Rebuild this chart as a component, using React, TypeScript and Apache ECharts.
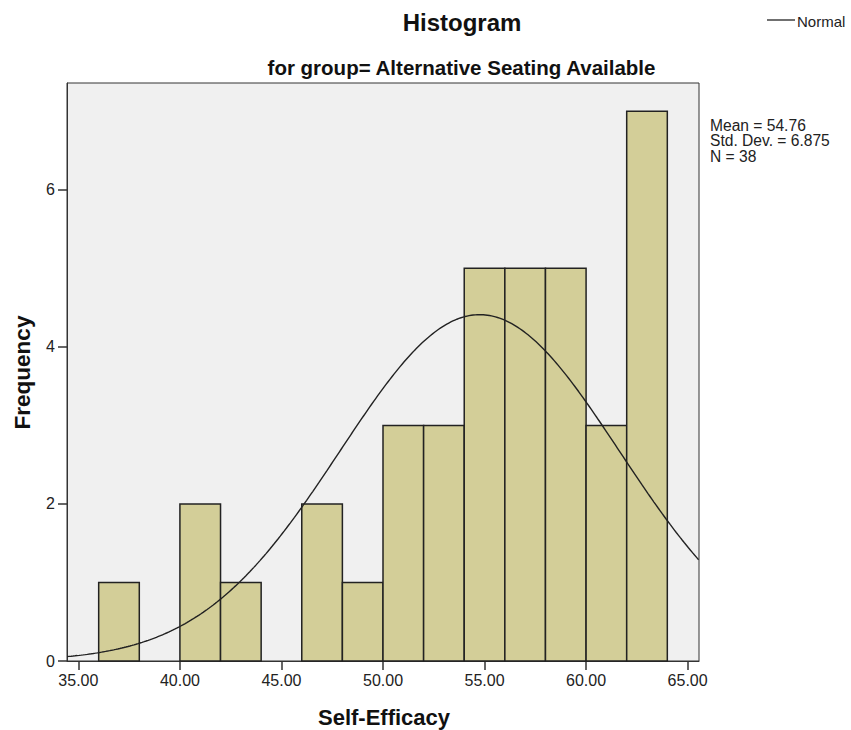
import React, { useEffect, useRef } from "react";
import * as echarts from "echarts";

// Histogram bins (lower bound of each bin) and frequencies
const binStarts = [36, 38, 40, 42, 44, 46, 48, 50, 52, 54, 56, 58, 60, 62];
const counts = [1, 0, 2, 1, 0, 2, 1, 3, 3, 5, 5, 5, 3, 7];
const BIN_WIDTH = 2;

// Axis ticks
const xTicks = [35, 40, 45, 50, 55, 60, 65];
const yTicks = [0, 2, 4, 6];
const X_MIN = 34.44;
const X_MAX = 65.56;
const Y_MAX = 7.36;

// Summary statistics (define the fitted normal curve)
const MEAN = 54.76;
const SD = 6.875;
const N = 38;
const statsLines = ["Mean = 54.76", "Std. Dev. = 6.875", "N = 38"];

const FONT = "'Liberation Sans', Arial, sans-serif";

function normalCurve(): number[][] {
  const pts: number[][] = [];
  const k = (N * BIN_WIDTH) / (SD * Math.sqrt(2 * Math.PI));
  for (let x = X_MIN; x <= X_MAX + 1e-9; x += 0.1) {
    const z = (x - MEAN) / SD;
    pts.push([x, k * Math.exp(-0.5 * z * z)]);
  }
  return pts;
}

export default function App() {
  const ref = useRef<HTMLDivElement>(null);
  useEffect(() => {
    if (!ref.current) return;
    const chart = echarts.init(ref.current, null, { renderer: "svg" });
    const barData = binStarts.map((b, i) => [b, counts[i]]);
    chart.setOption({
      animation: false,
      backgroundColor: "#ffffff",
      grid: {
        left: 67,
        top: 83,
        right: 152,
        bottom: 69,
        show: true,
        backgroundColor: "#f0f0f0",
        borderColor: "#333",
        borderWidth: 1,
      },
      xAxis: {
        type: "value",
        min: X_MIN,
        max: X_MAX,
        splitLine: { show: false },
        axisLine: { show: true, lineStyle: { color: "#333", width: 1 } },
        axisTick: {
          show: true,
          customValues: xTicks,
          length: 9,
          lineStyle: { color: "#333", width: 1.5 },
        },
        axisLabel: {
          customValues: xTicks,
          formatter: (v: number) => v.toFixed(2),
          color: "#222",
          fontSize: 16,
          fontFamily: FONT,
          margin: 11,
        },
      },
      yAxis: {
        type: "value",
        min: 0,
        max: Y_MAX,
        splitLine: { show: false },
        axisLine: { show: true, lineStyle: { color: "#333", width: 1 } },
        axisTick: {
          show: true,
          customValues: yTicks,
          length: 9,
          lineStyle: { color: "#333", width: 1.5 },
        },
        axisLabel: {
          customValues: yTicks,
          formatter: (v: number) => String(v),
          color: "#222",
          fontSize: 16,
          fontFamily: FONT,
          margin: 12,
        },
      },
      series: [
        {
          type: "custom",
          data: barData,
          encode: { x: 0, y: 1 },
          renderItem: (params: any, api: any) => {
            const x0 = api.value(0);
            const c = api.value(1);
            if (!c) return { type: "group", children: [] };
            const p0 = api.coord([x0, c]);
            const p1 = api.coord([x0 + BIN_WIDTH, 0]);
            return {
              type: "rect",
              shape: { x: p0[0], y: p0[1], width: p1[0] - p0[0], height: p1[1] - p0[1] },
              style: { fill: "#d3ce98", stroke: "#222", lineWidth: 1.5 },
            };
          },
          z: 2,
        },
        {
          type: "line",
          data: normalCurve(),
          showSymbol: false,
          symbol: "none",
          clip: true,
          lineStyle: { color: "#222", width: 1.4 },
          z: 3,
        },
      ],
      graphic: [
        {
          type: "text",
          x: 462,
          y: 22,
          style: {
            text: "Histogram",
            fontSize: 24,
            fontWeight: "bold",
            fontFamily: FONT,
            fill: "#111",
            textAlign: "center",
            textVerticalAlign: "middle",
          },
        },
        {
          type: "text",
          x: 461.5,
          y: 67,
          style: {
            text: "for group= Alternative Seating Available",
            fontSize: 20.5,
            fontWeight: "bold",
            fontFamily: FONT,
            fill: "#111",
            textAlign: "center",
            textVerticalAlign: "middle",
          },
        },
        {
          type: "line",
          shape: { x1: 767, y1: 20, x2: 795, y2: 20 },
          style: { stroke: "#222", lineWidth: 1.3 },
        },
        {
          type: "text",
          x: 797,
          y: 21,
          style: {
            text: "Normal",
            fontSize: 15,
            fontFamily: FONT,
            fill: "#222",
            textAlign: "left",
            textVerticalAlign: "middle",
          },
        },
        ...statsLines.map((t, i) => ({
          type: "text",
          x: 710,
          y: 125 + i * 15.5,
          style: {
            text: t,
            fontSize: 15.6,
            fontFamily: FONT,
            fill: "#222",
            textAlign: "left",
            textVerticalAlign: "middle",
          },
        })),
        {
          type: "text",
          x: 384,
          y: 717,
          style: {
            text: "Self-Efficacy",
            fontSize: 22,
            fontWeight: "bold",
            fontFamily: FONT,
            fill: "#111",
            textAlign: "center",
            textVerticalAlign: "middle",
          },
        },
        {
          type: "text",
          x: 22.5,
          y: 372.5,
          rotation: Math.PI / 2,
          style: {
            text: "Frequency",
            fontSize: 22.5,
            fontWeight: "bold",
            fontFamily: FONT,
            fill: "#111",
            textAlign: "center",
            textVerticalAlign: "middle",
          },
        },
      ],
    });
    return () => chart.dispose();
  }, []);
  return (
    <div
      ref={ref}
      style={{ position: "absolute", left: 0, top: 0, width: 851, height: 730 }}
    />
  );
}
